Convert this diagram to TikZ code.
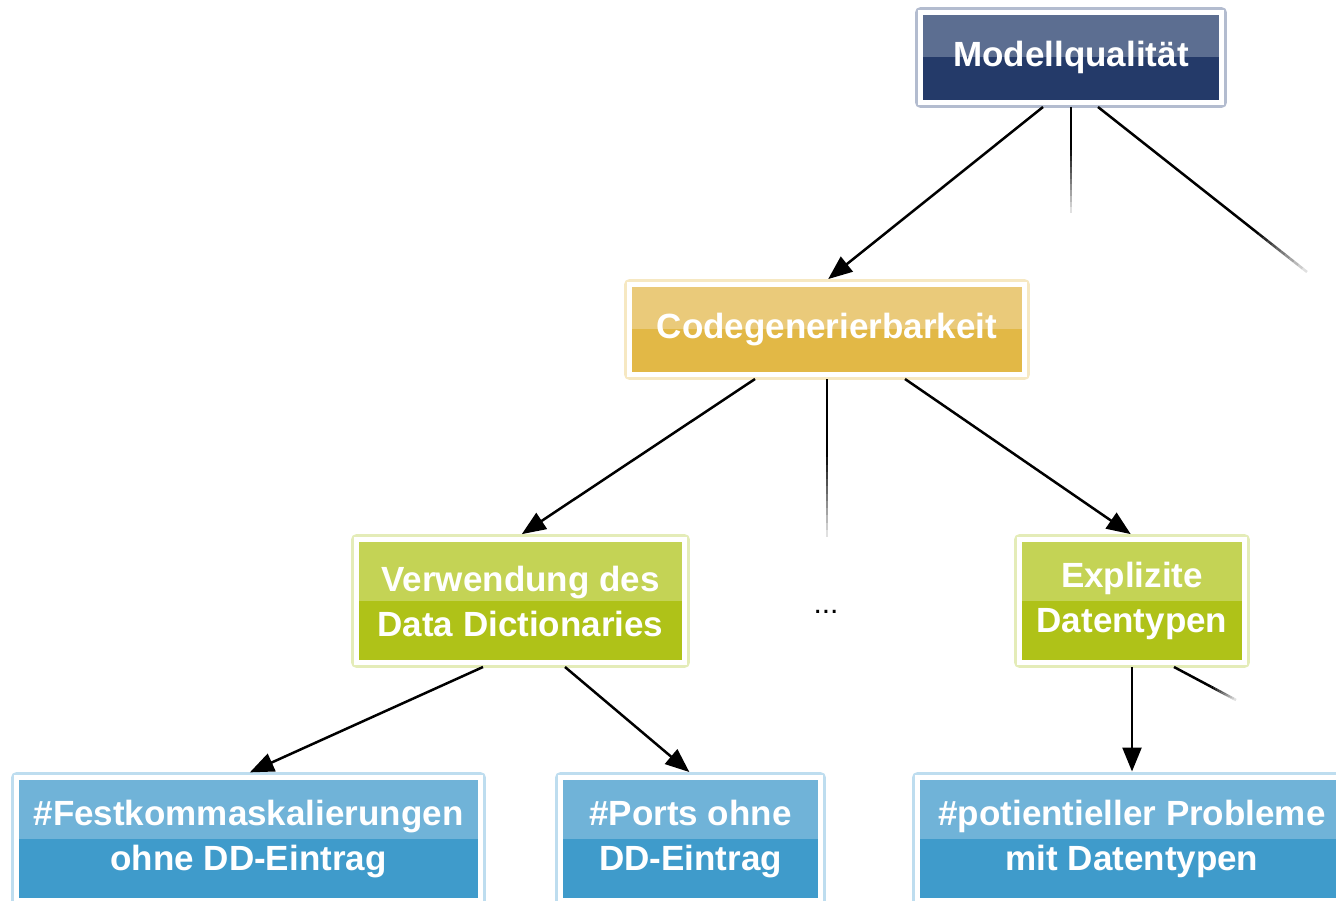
\documentclass[tikz,border=0pt]{standalone}
\usepackage{fontspec}
\setmainfont{Liberation Sans}
\usepackage{xcolor}
\usetikzlibrary{arrows.meta,calc}
\definecolor{mqTop}{HTML}{5C6E91}
\definecolor{mqBot}{HTML}{243A69}
\definecolor{mqRim}{HTML}{B3BCCF}
\definecolor{cgTop}{HTML}{EACA7A}
\definecolor{cgBot}{HTML}{E2B846}
\definecolor{cgRim}{HTML}{F6E8C2}
\definecolor{grTop}{HTML}{C4D355}
\definecolor{grBot}{HTML}{AFC218}
\definecolor{grRim}{HTML}{E4ECB8}
\definecolor{blTop}{HTML}{70B3D8}
\definecolor{blBot}{HTML}{3F9BCB}
\definecolor{blRim}{HTML}{BEDDEF}
\tikzset{
  qbox/.style n args={3}{rectangle, fill=#2, draw=white, line width=5pt,
    path picture={\fill[#1] (path picture bounding box.north west) rectangle (path picture bounding box.east);},
    preaction={draw=#3, line width=11pt, line join=round},
    text=white, font=\bfseries\fontsize{35}{45}\selectfont, align=center, inner sep=0pt, outer sep=4.5pt},
  arrow/.style={-{Triangle[length=24pt,width=19pt]}, line width=2.5pt, shorten >=1.5pt}
}
% connector that runs out into white
\newcommand{\fadeline}[3]{%
  \draw[line width=2.5pt] (#1) -- ($(#1)!#3!(#2)$);
  \foreach \k in {0,...,11}{
    \pgfmathsetmacro{\fa}{#3+(1-#3)*\k/12}
    \pgfmathsetmacro{\fb}{#3+(1-#3)*(\k+1)/12}
    \pgfmathtruncatemacro{\shadeval}{100-8*\k}
    \draw[line width=2.5pt, black!\shadeval] ($(#1)!\fa!(#2)$) -- ($(#1)!\fb!(#2)$);
  }%
}
\begin{document}
\begin{tikzpicture}[x=1pt, y=-1pt]
  \useasboundingbox (0,0) rectangle (1336,901);
  \clip (0,0) rectangle (1336,901);

  % --- level 0 ---
  \node[qbox={mqTop}{mqBot}{mqRim}, minimum width=301pt, minimum height=90pt] (mq) at (1071,57.5) {\raisebox{-3pt}{Modellqualit\"at}};

  % --- level 1 ---
  \node[qbox={cgTop}{cgBot}{cgRim}, minimum width=395pt, minimum height=90pt] (cg) at (827,329.5) {\raisebox{-3pt}{Codegenerierbarkeit}};

  % --- level 2 ---
  \node[qbox={grTop}{grBot}{grRim}, minimum width=328pt, minimum height=123pt] (vw) at (520.5,601) {Verwendung des\\Data Dictionaries};
  \node[font=\fontsize{30}{34}\selectfont, anchor=base] (dots) at (826,613) {...};
  \node[qbox={grTop}{grBot}{grRim}, minimum width=225pt, minimum height=123pt] (ex) at (1132,601) {Explizite\\Datentypen};

  % --- level 3 ---
  \node[qbox={blTop}{blBot}{blRim}, minimum width=464pt, minimum height=123pt] (fk) at (248.5,839) {\#Festkommaskalierungen\\ohne DD-Eintrag};
  \node[qbox={blTop}{blBot}{blRim}, minimum width=260pt, minimum height=123pt] (po) at (690.5,839) {\#Ports ohne\\DD-Eintrag};
  \node[qbox={blTop}{blBot}{blRim}, minimum width=429pt, minimum height=123pt] (pp) at (1132,839) {\#potientieller Probleme\\mit Datentypen};

  % --- connectors ---
  \draw[arrow] ([xshift=-28pt]mq.south) -- (cg.north);
  \draw[arrow] ([xshift=-72pt]cg.south) -- (vw.north);
  \draw[arrow] ([xshift=78pt]cg.south) -- (ex.north);
  \draw[arrow] ([xshift=-37.5pt]vw.south) -- (fk.north);
  \draw[arrow] ([xshift=44.5pt]vw.south) -- (po.north);
  \draw[arrow] (ex.south) -- (pp.north);

  % open ends
  \coordinate (mqEndA) at (1071,213);
  \coordinate (mqEndB) at (1307,272);
  \coordinate (cgEnd) at (827,537);
  \coordinate (exEnd) at (1236,700);
  \fadeline{mq.south}{mqEndA}{0.35}
  \fadeline{$(mq.south)+(27,0)$}{mqEndB}{0.75}
  \fadeline{cg.south}{cgEnd}{0.45}
  \fadeline{$(ex.south)+(42,0)$}{exEnd}{0.6}
\end{tikzpicture}
\end{document}
